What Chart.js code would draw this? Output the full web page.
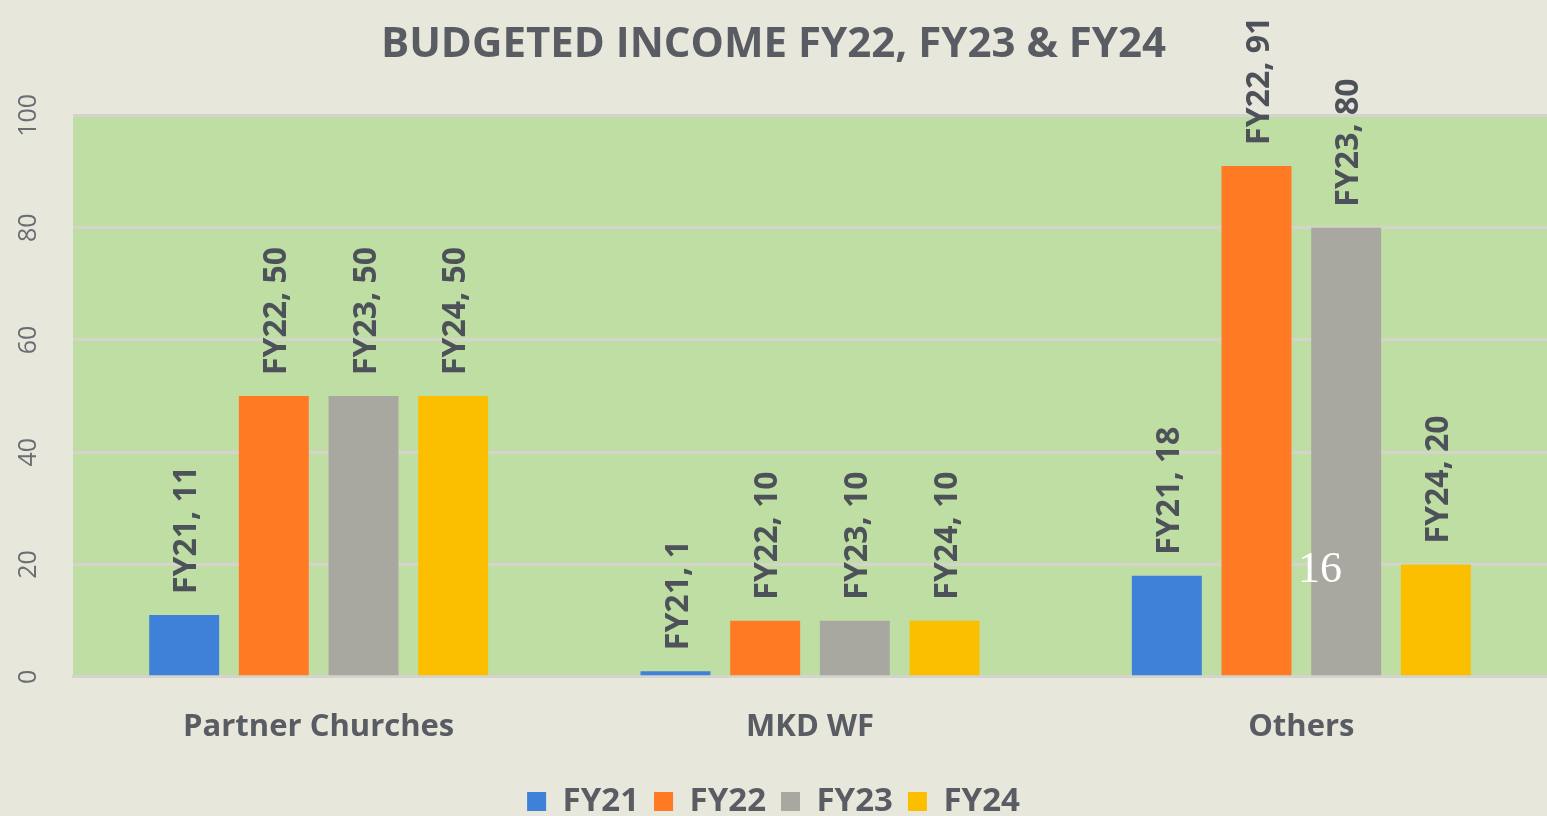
<!DOCTYPE html>
<html>
<head>
<meta charset="utf-8">
<script src="https://cdn.jsdelivr.net/npm/chart.js@4/dist/chart.umd.min.js"></script>
<style>
  html, body { margin: 0; padding: 0; background: #e7e7dc; }
  #wrap { position: relative; width: 1547px; height: 816px; }
  #stamp { position: absolute; left: 1298px; top: 542px; color: #fff; font: 44px "Liberation Serif", serif; }
</style>
</head>
<body>
<div id="wrap">
  <canvas id="chart" width="1547" height="816"></canvas>
  <div id="stamp">16</div>
</div>
<script>
const categories = ['Partner Churches', 'MKD WF', 'Others'];
const seriesNames = ['FY21', 'FY22', 'FY23', 'FY24'];
const fy21 = [11, 1, 18];
const fy22 = [50, 10, 91];
const fy23 = [50, 10, 80];
const fy24 = [50, 10, 20];
const yTicks = [0, 20, 40, 60, 80, 100];

const colors = ['#3f80d8', '#ff7a22', '#a8a8a0', '#fbbf00'];
const textColor = '#595c62';
const fontFamily = '"Open Sans", "Noto Sans", sans-serif';

// green plot area
const plotBg = {
  id: 'plotBg',
  beforeDraw(chart) {
    const { ctx, chartArea: a } = chart;
    ctx.save();
    ctx.fillStyle = '#bfdea3';
    ctx.fillRect(a.left, a.top, a.right - a.left, a.bottom - a.top);
    ctx.restore();
  }
};

// rotated y tick labels
const yLabels = {
  id: 'yLabels',
  afterDraw(chart) {
    const { ctx } = chart;
    const y = chart.scales.y;
    ctx.save();
    ctx.fillStyle = '#6a6d72';
    ctx.font = '25px ' + fontFamily;
    ctx.textAlign = 'center';
    ctx.textBaseline = 'middle';
    yTicks.forEach(v => {
      ctx.save();
      ctx.translate(29, y.getPixelForValue(v));
      ctx.rotate(-Math.PI / 2);
      ctx.fillText(String(v), 0, 0);
      ctx.restore();
    });
    ctx.restore();
  }
};

// "FY21, 11" style labels above bars
const barLabels = {
  id: 'barLabels',
  afterDatasetsDraw(chart) {
    const { ctx } = chart;
    ctx.save();
    ctx.fillStyle = '#4d5159';
    ctx.font = 'bold 32px ' + fontFamily;
    ctx.textAlign = 'left';
    ctx.textBaseline = 'middle';
    chart.data.datasets.forEach((ds, i) => {
      chart.getDatasetMeta(i).data.forEach((bar, j) => {
        ctx.save();
        ctx.translate(bar.x + 3, bar.y - 21);
        ctx.rotate(-Math.PI / 2);
        ctx.fillText(ds.label + ', ' + ds.data[j], 0, 0);
        ctx.restore();
      });
    });
    ctx.restore();
  }
};

const seriesData = [fy21, fy22, fy23, fy24];

new Chart(document.getElementById('chart'), {
  type: 'bar',
  data: {
    labels: categories,
    datasets: seriesNames.map((name, i) => ({
      label: name,
      data: seriesData[i],
      backgroundColor: colors[i],
      categoryPercentage: 0.73,
      barPercentage: 0.78
    }))
  },
  options: {
    responsive: false,
    animation: false,
    layout: { padding: { left: 0, right: 0, top: 0, bottom: -12 } },
    scales: {
      x: {
        grid: { display: false },
        border: { display: true, color: '#d4d4cc', width: 3 },
        ticks: {
          color: textColor,
          font: { family: fontFamily, size: 31, weight: 'bold' },
          padding: 24
        }
      },
      y: {
        min: 0,
        max: 100,
        ticks: { display: false, stepSize: 20 },
        grid: { color: '#d4d4cc', lineWidth: 3, drawTicks: false },
        border: { display: false },
        afterFit(scale) { scale.width = 73; }
      }
    },
    plugins: {
      title: {
        display: true,
        text: 'BUDGETED INCOME FY22, FY23 & FY24',
        color: textColor,
        font: { family: fontFamily, size: 42, weight: 'bold' },
        padding: { top: 20, bottom: 45 }
      },
      legend: {
        position: 'bottom',
        labels: {
          color: textColor,
          font: { family: fontFamily, size: 33, weight: 'bold' },
          boxWidth: 19,
          boxHeight: 19,
          padding: 15
        }
      },
      tooltip: { enabled: false }
    }
  },
  plugins: [plotBg, yLabels, barLabels]
});
</script>
</body>
</html>
